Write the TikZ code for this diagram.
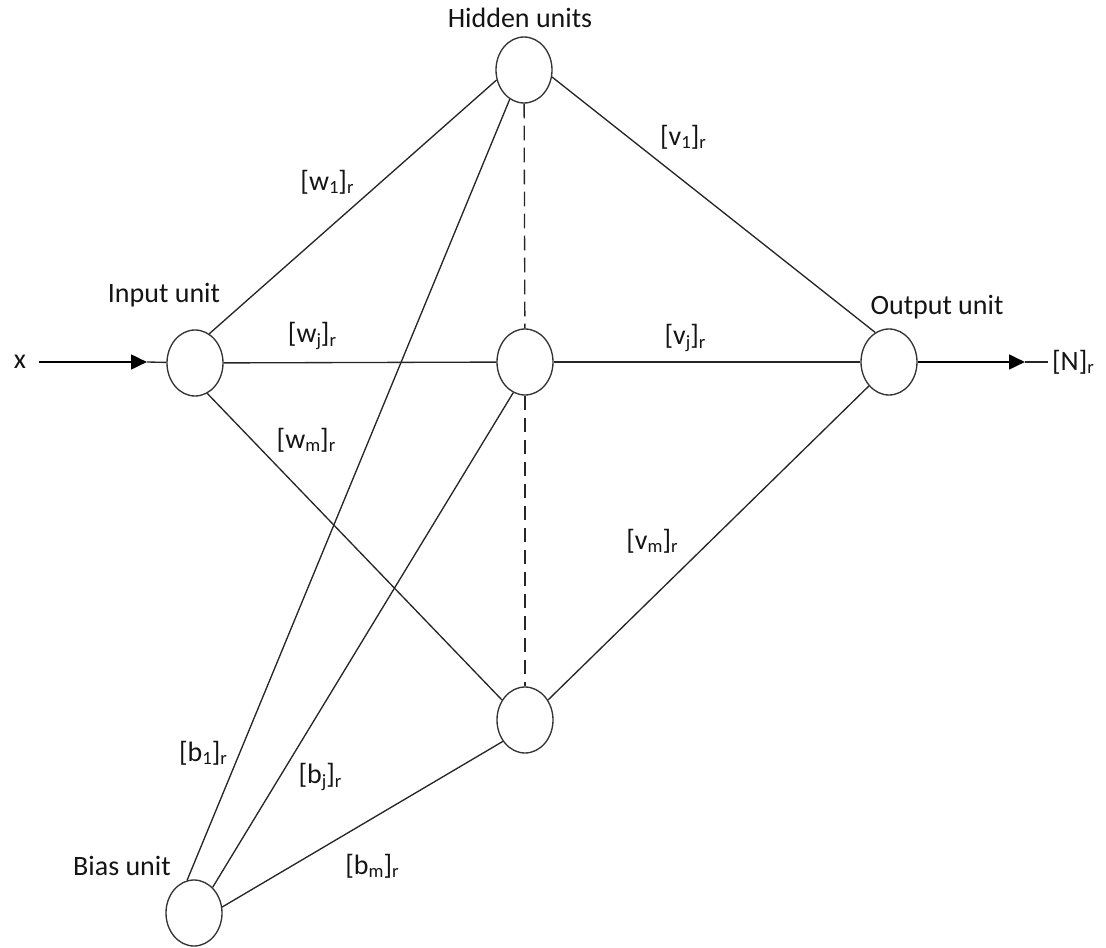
\documentclass[tikz,border=0pt]{standalone}
\usepackage{fontspec}
\setmainfont{Carlito}
\usetikzlibrary{arrows.meta,shapes.geometric}
\newcommand{\sbs}[1]{\raisebox{-2.5pt}{\fontsize{14}{14}\selectfont #1}}
\begin{document}
\begin{tikzpicture}[x=0.75pt,y=-0.75pt,
  unit/.style={draw=black!80, ellipse, minimum width=42pt, minimum height=49.5pt, inner sep=0pt, line width=1pt},
  lbl/.style={font=\fontsize{21}{25}\selectfont, text=black!92, inner sep=0pt},
  link/.style={line width=1pt, draw=black!85},
  hid/.style={link, dash pattern=on 11pt off 5.5pt},
  boldarrow/.style={line width=2pt, draw=black, -{Triangle[length=12pt,width=11pt]}}]
\useasboundingbox (0,0) rectangle (1106,948);
% units
\node[unit] (in) at (195,363) {};
\node[unit] (h1) at (524,70) {};
\node[unit] (hj) at (525,362) {};
\node[unit] (hm) at (525,720) {};
\node[unit] (out) at (889,362) {};
\node[unit] (bias) at (194,913) {};
% titles
\node[lbl] (tin) at (164,295) {Input unit};
\node[lbl] (thid) at (520,18) {Hidden units};
\node[lbl] (tout) at (937,307) {Output unit};
\node[lbl] (tbias) at (122,866) {Bias unit};
\node[lbl] (xin) at (20,362) {x};
\node[lbl] (nout) at (1073,362) {[N]\sbs{r}};
% weights
\node[lbl] (w1) at (327,182) {[w\sbs{1}]\sbs{r}};
\node[lbl] (wj) at (312,336) {[w\sbs{j}]\sbs{r}};
\node[lbl] (wm) at (306,440) {[w\sbs{m}]\sbs{r}};
\node[lbl] (v1) at (683,137) {[v\sbs{1}]\sbs{r}};
\node[lbl] (vj) at (685,338) {[v\sbs{j}]\sbs{r}};
\node[lbl] (vm) at (652,541) {[v\sbs{m}]\sbs{r}};
\node[lbl] (b1) at (203,753) {[b\sbs{1}]\sbs{r}};
\node[lbl] (bj) at (320,777) {[b\sbs{j}]\sbs{r}};
\node[lbl] (bm) at (372,866) {[b\sbs{m}]\sbs{r}};
% input / output arrows
\coordinate (xs) at (39,362);
\coordinate (xt) at (147,362);
\coordinate (ot) at (1025,362);
\coordinate (oe) at (1048,362);
\draw[boldarrow] (xs) -- (xt);
\draw[link] (xt) -- (in);
\draw[boldarrow] (out) -- (ot);
\draw[link] (ot) -- (oe);
% input to hidden
\draw[link] (in.64) -- (h1.-160);
\draw[link] (in) -- (hj);
\draw[link] (in.-68) -- (hm.139);
% hidden to output
\draw[link] (h1.-14) -- (out.115);
\draw[link] (hj) -- (out);
\draw[link] (hm.41) -- (out.-130);
% bias to hidden
\draw[link] (bias.102) -- (h1.-116);
\draw[link] (bias.54) -- (hj.-111);
\draw[link] (bias.12) -- (hm.-136);
% dashed
\draw[hid] (h1) -- (hj);
\draw[hid] (hj) -- (hm);
\end{tikzpicture}
\end{document}
